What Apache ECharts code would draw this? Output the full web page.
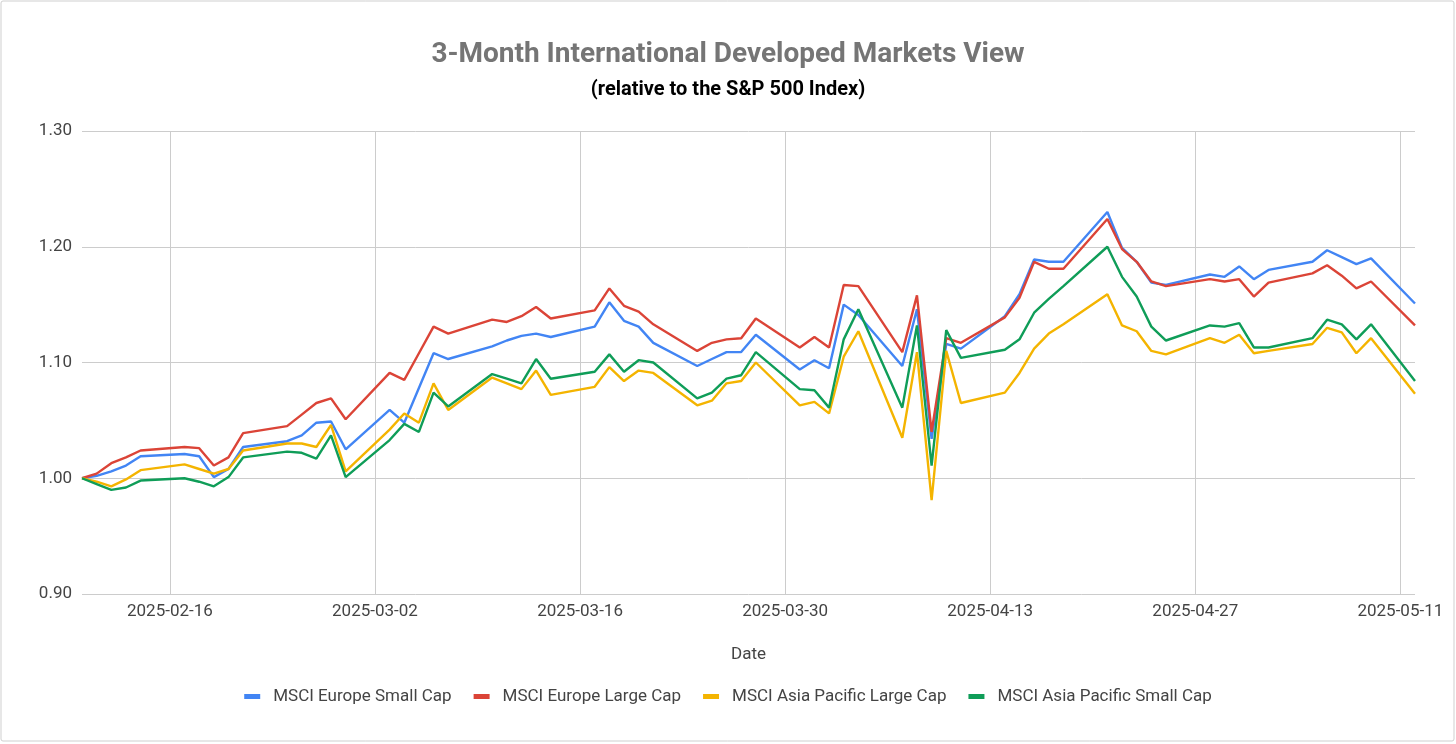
<!DOCTYPE html>
<html>
<head>
<meta charset="utf-8">
<script src="https://cdn.jsdelivr.net/npm/echarts@6/dist/echarts.min.js"></script>
<style>
html,body{margin:0;padding:0;background:#fff;}
#chart{width:1456px;height:744px;}
</style>
</head>
<body>
<div id="chart"></div>
<script>
const dates = [
 '2025-02-10','2025-02-11','2025-02-12','2025-02-13','2025-02-14',
 '2025-02-17','2025-02-18','2025-02-19','2025-02-20','2025-02-21',
 '2025-02-24','2025-02-25','2025-02-26','2025-02-27','2025-02-28',
 '2025-03-03','2025-03-04','2025-03-05','2025-03-06','2025-03-07',
 '2025-03-10','2025-03-11','2025-03-12','2025-03-13','2025-03-14',
 '2025-03-17','2025-03-18','2025-03-19','2025-03-20','2025-03-21',
 '2025-03-24','2025-03-25','2025-03-26','2025-03-27','2025-03-28',
 '2025-03-31','2025-04-01','2025-04-02','2025-04-03','2025-04-04',
 '2025-04-07','2025-04-08','2025-04-09','2025-04-10','2025-04-11',
 '2025-04-14','2025-04-15','2025-04-16','2025-04-17','2025-04-18',
 '2025-04-21','2025-04-22','2025-04-23','2025-04-24','2025-04-25',
 '2025-04-28','2025-04-29','2025-04-30','2025-05-01','2025-05-02',
 '2025-05-05','2025-05-06','2025-05-07','2025-05-08','2025-05-09',
 '2025-05-12'
];
const europeSmallCap = [
 1.000,1.002,1.006,1.011,1.019,
 1.021,1.019,1.001,1.008,1.027,
 1.032,1.037,1.048,1.049,1.025,
 1.059,1.048,1.078,1.108,1.103,
 1.114,1.119,1.123,1.125,1.122,
 1.131,1.152,1.136,1.131,1.117,
 1.097,1.103,1.109,1.109,1.124,
 1.094,1.102,1.095,1.150,1.141,
 1.097,1.146,1.034,1.116,1.112,
 1.140,1.159,1.189,1.187,1.187,
 1.230,1.199,1.187,1.169,1.167,
 1.176,1.174,1.183,1.172,1.180,
 1.187,1.197,1.191,1.185,1.190,
 1.151
];
const europeLargeCap = [
 1.000,1.004,1.013,1.018,1.024,
 1.027,1.026,1.011,1.018,1.039,
 1.045,1.055,1.065,1.069,1.051,
 1.091,1.085,1.108,1.131,1.125,
 1.137,1.135,1.140,1.148,1.138,
 1.145,1.164,1.149,1.144,1.133,
 1.110,1.117,1.120,1.121,1.138,
 1.113,1.122,1.113,1.167,1.166,
 1.109,1.158,1.040,1.121,1.117,
 1.139,1.156,1.187,1.181,1.181,
 1.224,1.198,1.187,1.170,1.166,
 1.172,1.170,1.172,1.157,1.169,
 1.177,1.184,1.175,1.164,1.170,
 1.132
];
const asiaPacificLargeCap = [
 1.000,0.997,0.993,0.999,1.007,
 1.012,1.008,1.004,1.008,1.024,
 1.030,1.030,1.027,1.046,1.006,
 1.042,1.056,1.048,1.082,1.059,
 1.087,1.082,1.077,1.093,1.072,
 1.079,1.096,1.084,1.093,1.091,
 1.063,1.067,1.082,1.084,1.100,
 1.063,1.066,1.056,1.105,1.127,
 1.035,1.109,0.981,1.110,1.065,
 1.074,1.091,1.112,1.125,1.133,
 1.159,1.132,1.127,1.110,1.107,
 1.121,1.117,1.124,1.108,1.110,
 1.116,1.130,1.126,1.108,1.121,
 1.073
];
const asiaPacificSmallCap = [
 1.000,0.995,0.990,0.992,0.998,
 1.000,0.997,0.993,1.001,1.018,
 1.023,1.022,1.017,1.037,1.001,
 1.033,1.047,1.040,1.074,1.062,
 1.090,1.086,1.082,1.103,1.086,
 1.092,1.107,1.092,1.102,1.100,
 1.069,1.074,1.086,1.089,1.109,
 1.077,1.076,1.061,1.120,1.146,
 1.061,1.132,1.011,1.128,1.104,
 1.111,1.120,1.143,1.155,1.166,
 1.200,1.174,1.157,1.131,1.119,
 1.132,1.131,1.134,1.113,1.113,
 1.121,1.137,1.133,1.120,1.133,
 1.084
];
const seriesNames = ['MSCI Europe Small Cap','MSCI Europe Large Cap','MSCI Asia Pacific Large Cap','MSCI Asia Pacific Small Cap'];
const seriesColors = ['#4285F4','#DB4437','#F4B400','#0F9D58'];
const tickLabels = ['2025-02-16','2025-03-02','2025-03-16','2025-03-30','2025-04-13','2025-04-27','2025-05-11'];

const DAY = 86400000;
const t0 = Date.parse(dates[0] + 'T00:00:00Z');
const dayOffset = s => Math.round((Date.parse(s + 'T00:00:00Z') - t0) / DAY);
const offsetToLabel = v => new Date(t0 + v * DAY).toISOString().slice(0, 10);
const xs = dates.map(dayOffset);
const tickOffsets = tickLabels.map(dayOffset);
const allSeries = [europeSmallCap, europeLargeCap, asiaPacificLargeCap, asiaPacificSmallCap];

const chart = echarts.init(document.getElementById('chart'));
chart.setOption({
  animation: false,
  backgroundColor: '#fff',
  textStyle: {fontFamily: 'Roboto'},
  graphic: [{
    type: 'rect', silent: true,
    shape: {x: 1, y: 1, width: 1453, height: 740, r: 2},
    style: {fill: 'none', stroke: '#cfcfcf', lineWidth: 1}
  }],
  title: [
    {text: '3-Month International Developed Markets View', left: 'center', top: 36,
     textStyle: {fontFamily: 'Roboto', fontSize: 28, fontWeight: 'bold', color: '#757575'}},
    {text: '(relative to the S&P 500 Index)', left: 'center', top: 75,
     textStyle: {fontFamily: 'Roboto', fontSize: 20, fontWeight: 'bold', color: '#000'}}
  ],
  legend: {
    data: seriesNames, left: 'center', top: 683,
    icon: 'rect', itemWidth: 16, itemHeight: 5, itemGap: 22,
    textStyle: {fontFamily: 'Roboto', fontSize: 17, color: '#444', padding: [0, 0, 0, 8]}
  },
  grid: {left: 82, right: 41, top: 131, bottom: 150, containLabel: false},
  xAxis: {
    type: 'value', min: xs[0], max: xs[xs.length - 1],
    name: 'Date', nameLocation: 'middle', nameGap: 52,
    nameTextStyle: {fontFamily: 'Roboto', fontSize: 17, color: '#444'},
    axisLine: {show: false},
    axisTick: {show: false, customValues: tickOffsets},
    axisLabel: {customValues: tickOffsets, formatter: v => offsetToLabel(v), margin: 9,
      fontFamily: 'Roboto', fontSize: 17, color: '#444'},
    splitLine: {show: true, lineStyle: {color: '#cccccc', width: 1}}
  },
  yAxis: {
    type: 'value', min: 0.9, max: 1.3, interval: 0.1,
    axisLine: {show: false}, axisTick: {show: false},
    axisLabel: {formatter: v => v.toFixed(2), margin: 10, fontFamily: 'Roboto', fontSize: 17, color: '#444'},
    splitLine: {show: true, lineStyle: {color: '#cccccc', width: 1}}
  },
  series: allSeries.map((vals, i) => ({
    name: seriesNames[i], type: 'line', showSymbol: false, symbol: 'none',
    color: seriesColors[i],
    lineStyle: {width: 2.4, color: seriesColors[i]},
    emphasis: {disabled: true},
    data: vals.map((v, j) => [xs[j], v])
  }))
});
</script>
</body>
</html>
